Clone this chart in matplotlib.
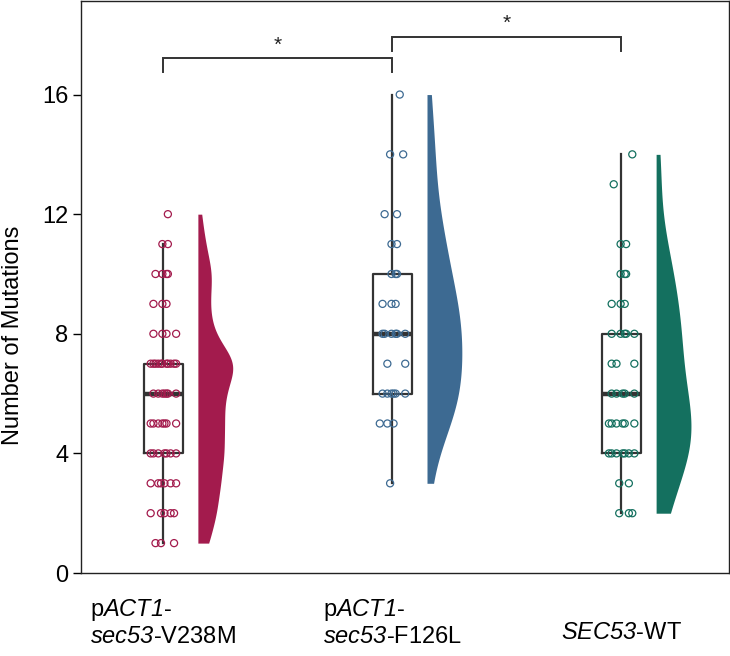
import numpy as np
import matplotlib
matplotlib.use("Agg")
import matplotlib.pyplot as plt

plt.rcParams['font.family'] = ['Liberation Sans', 'DejaVu Sans']
plt.rcParams['mathtext.fontset'] = 'custom'
plt.rcParams['mathtext.rm'] = 'Liberation Sans'
plt.rcParams['mathtext.it'] = 'Liberation Sans:italic'
plt.rcParams['mathtext.sf'] = 'Liberation Sans:italic'

# ---- data (value, count of points at that value) ----
tick_labels = ["p$\\mathsf{ACT1}$-\n$\\mathsf{sec53}$-V238M",
               "p$\\mathsf{ACT1}$-\n$\\mathsf{sec53}$-F126L",
               "\n$\\mathsf{SEC53}$-WT"]
colors = ["#A31B4D", "#3D6A92", "#14705F"]

v238m_values = [1, 2, 3, 4, 5, 6, 7, 8, 9, 10, 11, 12]
v238m_counts = [3, 5, 6, 7, 7, 7, 11, 4, 3, 4, 2, 1]
f126l_values = [3, 5, 6, 7, 8, 9, 10, 11, 12, 14, 16]
f126l_counts = [1, 3, 6, 2, 6, 3, 3, 2, 2, 2, 1]
wt_values = [2, 3, 4, 5, 6, 7, 8, 9, 10, 11, 13, 14]
wt_counts = [3, 2, 7, 6, 5, 3, 5, 3, 3, 2, 1, 1]

y_ticks = [0, 4, 8, 12, 16]
sig_pairs = [(0, 1), (1, 2)]
sig_labels = ["*", "*"]

data = [np.repeat(v238m_values, v238m_counts).astype(float),
        np.repeat(f126l_values, f126l_counts).astype(float),
        np.repeat(wt_values, wt_counts).astype(float)]
positions = np.arange(len(data))
bw_adjust = [0.7, 1.0, 1.0]

fig = plt.figure(figsize=(7.3, 6.56), dpi=100)
ax = fig.add_axes([0.111, 0.1265, 0.8876, 0.8725])

# fixed jitter pattern (position only)
jit_pattern = np.array([0.35, -0.55, 0.8, -0.15, 0.55, -0.9, 0.1, -0.35, 0.95, -0.7, 0.25, -0.05])
jit_w = 0.06


def kde_nrd0(x, grid, adjust=1.0):
    n = len(x)
    sd = np.std(x, ddof=1)
    iqr = np.subtract(*np.percentile(x, [75, 25]))
    lo = min(sd, iqr / 1.34)
    bw = 0.9 * lo * n ** (-0.2) * adjust
    z = (grid[:, None] - x[None, :]) / bw
    return np.exp(-0.5 * z ** 2).sum(axis=1) / (n * bw * np.sqrt(2 * np.pi))


# violins (half, right side), each scaled to the same max width
vw = 0.152
voff = 0.152
for i, d in enumerate(data):
    g = np.linspace(d.min(), d.max(), 400)
    dd = kde_nrd0(d, g, adjust=bw_adjust[i])
    x0 = positions[i] + voff
    ax.fill_betweenx(g, x0, x0 + dd / dd.max() * vw, color=colors[i], lw=0, zorder=2)

# boxplots
ax.boxplot(data, positions=positions, widths=0.17, showfliers=False, showcaps=False,
           whis=1.5, manage_ticks=False,
           boxprops=dict(color="#333333", lw=1.6),
           whiskerprops=dict(color="#333333", lw=1.6),
           medianprops=dict(color="#333333", lw=3.2),
           zorder=3)

# jittered points
for i, d in enumerate(data):
    vals = np.sort(d)
    xs = []
    ys = []
    for v in np.unique(vals):
        k = int((vals == v).sum())
        for j in range(k):
            xs.append(positions[i] + jit_w * jit_pattern[(j + int(v)) % len(jit_pattern)])
            ys.append(v)
    ax.scatter(xs, ys, s=26, facecolors="none", edgecolors=colors[i], linewidths=0.9, zorder=4)

# significance brackets
bracket_y = [17.22, 17.93]
bracket_drop = 0.48
for (a, b), lab, by in zip(sig_pairs, sig_labels, bracket_y):
    ax.plot([a, a, b, b], [by - bracket_drop, by, by, by - bracket_drop], color="#333333", lw=1.4,
            solid_joinstyle="miter")
    ax.text((a + b) / 2, by + 0.12, lab, ha="center", va="bottom", fontsize=15, color="#222222")

ax.set_xlim(-0.358, 2.47)
ax.set_ylim(0, 19.14)
ax.set_yticks(y_ticks)
ax.set_yticklabels([str(t) for t in y_ticks])
ax.set_xticks(positions)
ax.set_xticklabels(tick_labels, multialignment="left")
ax.tick_params(axis="x", length=0, pad=17, labelsize=17)
ax.tick_params(axis="y", length=6, width=1.0, pad=3, labelsize=17)
for sp in ax.spines.values():
    sp.set_linewidth(1.0)
    sp.set_color("#222222")
ax.set_ylabel("Number of Mutations", fontsize=17)
ax.yaxis.set_label_coords(-0.088, 0.415)

fig.savefig("out.png", dpi=100)
